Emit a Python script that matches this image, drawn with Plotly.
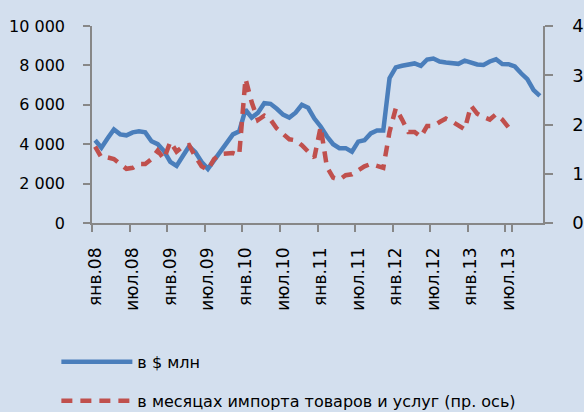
import plotly.graph_objects as go

# Months Jan 2008 .. Dec 2013 (category axis)
months_ru = ["янв.", "фев.", "мар.", "апр.", "май.", "июн.", "июл.", "авг.", "сен.", "окт.", "ноя.", "дек."]
years = ["08", "09", "10", "11", "12", "13"]
categories = [m + y for y in years for m in months_ru]

# Reserves, $ mln (left axis)
usd_mln = [
    4200, 3820, 4300, 4750, 4500, 4450, 4600, 4650, 4600, 4150, 4000, 3650,
    3100, 2900, 3400, 3900, 3600, 3100, 2750, 3200, 3650, 4000, 4500, 4650,
    5750, 5350, 5600, 6080, 6050, 5800, 5500, 5350, 5600, 6000, 5850, 5300,
    4900, 4400, 4000, 3800, 3800, 3620, 4130, 4200, 4550, 4700, 4700, 7350,
    7900, 7980, 8050, 8100, 7980, 8300, 8350, 8200, 8150, 8100, 8080, 8240,
    8150, 8050, 8020, 8200, 8310, 8070, 8060, 7950, 7600, 7300, 6750, 6450,
]

# Months of imports of goods and services (right axis), Jan 2008 .. Aug 2013
import_months = [
    1.55, 1.33, 1.33, 1.30, 1.20, 1.10, 1.12, 1.20, 1.20, 1.30, 1.47, 1.30,
    1.65, 1.45, 1.55, 1.58, 1.35, 1.15, 1.08, 1.30, 1.40, 1.42, 1.42, 1.38,
    2.93, 2.45, 2.09, 2.18, 2.10, 1.92, 1.80, 1.70, 1.68, 1.58, 1.45, 1.33,
    1.95, 1.14, 0.92, 0.88, 0.97, 0.99, 1.07, 1.15, 1.20, 1.17, 1.12, 1.85,
    2.33, 2.10, 1.85, 1.85, 1.75, 1.97, 1.97, 2.05, 2.12, 2.06, 1.98, 1.90,
    2.38, 2.22, 2.15, 2.10, 2.21, 2.10, 1.94, 1.97,
]

left_ticks = [0, 2000, 4000, 6000, 8000, 10000]
left_tick_text = ["0", "2 000", "4 000", "6 000", "8 000", "10 000"]
right_ticks = [0, 1, 2, 3, 4]
x_tick_labels = [categories[i] for i in range(0, 72, 6)]

series_names = ["в $ млн", "в месяцах импорта товаров и услуг (пр. ось)"]

BG = "#D3DFEE"
AXIS = "#878787"
FONT = "DejaVu Sans"

fig = go.Figure()
fig.add_trace(go.Scatter(
    x=categories, y=usd_mln, mode="lines", name=series_names[0],
    line=dict(color="#4A7EBB", width=4.5), legendgroup="a",
))
fig.add_trace(go.Scatter(
    x=categories[:len(import_months)], y=import_months, mode="lines", name=series_names[1],
    line=dict(color="#C0504D", width=4.5, dash="11px,8px"), yaxis="y2", legendgroup="b",
))

fig.update_layout(
    width=584, height=412,
    paper_bgcolor=BG, plot_bgcolor=BG,
    margin=dict(l=92, r=41, t=26, b=189, autoexpand=False),
    font=dict(family=FONT, color="#000000"),
    showlegend=True,
    legend=dict(
        orientation="v", x=-0.079, xanchor="left", y=-0.619, yanchor="top",
        bgcolor="rgba(0,0,0,0)", font=dict(family=FONT, size=16, color="#000"),
        itemwidth=71, tracegroupgap=15, traceorder="grouped",
    ),
    xaxis=dict(
        type="category", categoryorder="array", categoryarray=categories,
        range=[-0.5, 71.5], tickmode="array", tickvals=x_tick_labels, ticktext=x_tick_labels,
        tickangle=-90, tickson="boundaries", ticks="outside", ticklen=7, tickcolor=AXIS,
        tickwidth=1.5, showline=True, linecolor=AXIS, linewidth=1.5, showgrid=False,
        tickfont=dict(family=FONT, size=17), zeroline=False, automargin=False,
        ticklabelstandoff=16,
    ),
    yaxis=dict(
        range=[0, 10000], tickvals=left_ticks, ticktext=left_tick_text,
        ticks="outside", ticklen=7, tickcolor=AXIS, tickwidth=1.5,
        showline=True, linecolor=AXIS, linewidth=1.5, showgrid=False, zeroline=False,
        tickfont=dict(family=FONT, size=16), ticklabelstandoff=15, automargin=False,
    ),
    yaxis2=dict(
        range=[0, 4], tickvals=right_ticks, overlaying="y", side="right",
        ticks="outside", ticklen=8, tickcolor=AXIS, tickwidth=1.5,
        showline=True, linecolor=AXIS, linewidth=1.5, showgrid=False, zeroline=False,
        tickfont=dict(family=FONT, size=18), ticklabelstandoff=16, automargin=False,
    ),
)

fig.write_html(
    "out.html",
    config={"displayModeBar": False},
    post_script="document.body.style.margin='0';document.body.style.background='" + BG + "';",
)
